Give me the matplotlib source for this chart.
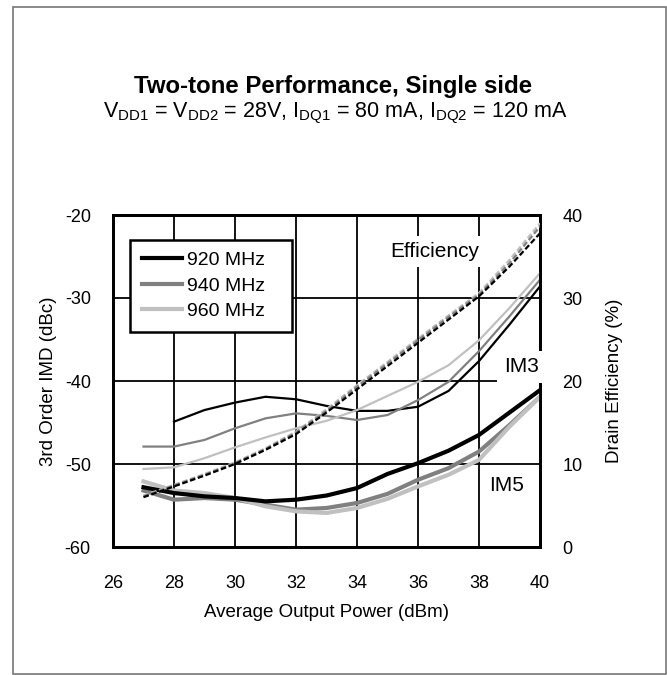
import matplotlib
matplotlib.use("Agg")
import matplotlib.pyplot as plt
from matplotlib.lines import Line2D
from matplotlib.patches import Rectangle

plt.rcParams['font.family'] = ['Liberation Sans', 'DejaVu Sans']
plt.rcParams['mathtext.fontset'] = 'custom'
plt.rcParams['mathtext.rm'] = 'Liberation Sans'
plt.rcParams['mathtext.it'] = 'Liberation Sans:italic'
plt.rcParams['mathtext.bf'] = 'Liberation Sans:bold'
plt.rcParams['axes.unicode_minus'] = False

# ---- data ----
pout = [27, 28, 29, 30, 31, 32, 33, 34, 35, 36, 37, 38, 39, 40]
pout_920_im3 = [28, 29, 30, 31, 32, 33, 34, 35, 36, 37, 38, 39, 40]

im3_920 = [-44.9, -43.5, -42.6, -41.9, -42.2, -43.0, -43.6, -43.6, -43.1, -41.2, -37.6, -33.2, -28.6]
im3_940 = [-47.9, -47.9, -47.1, -45.7, -44.5, -43.9, -44.2, -44.7, -44.1, -42.3, -40.1, -36.4, -32.2, -27.8]
im3_960 = [-50.6, -50.4, -49.3, -48.0, -46.8, -45.7, -44.8, -43.5, -41.8, -40.1, -38.1, -35.1, -31.2, -27.0]

im5_920 = [-52.8, -53.5, -53.9, -54.1, -54.5, -54.3, -53.8, -52.9, -51.2, -49.9, -48.4, -46.5, -43.8, -41.1]
im5_940 = [-53.2, -54.3, -54.1, -54.3, -54.9, -55.5, -55.3, -54.7, -53.6, -51.9, -50.5, -48.5, -45.3, -41.9]
im5_960 = [-52.1, -53.2, -53.5, -54.1, -55.1, -55.7, -55.9, -55.3, -54.2, -52.7, -51.3, -49.5, -45.5, -41.9]

eff_920 = [6.0, 7.3, 8.6, 10.0, 11.7, 13.6, 16.2, 19.0, 21.8, 24.6, 27.4, 30.2, 33.8, 37.8]
eff_940 = [6.1, 7.4, 8.7, 10.1, 11.8, 13.8, 16.4, 19.3, 22.1, 24.9, 27.7, 30.4, 34.2, 38.6]
eff_960 = [6.2, 7.5, 8.8, 10.2, 11.9, 13.9, 16.6, 19.5, 22.3, 25.1, 27.9, 30.6, 34.6, 39.0]

series_labels = ['920 MHz', '940 MHz', '960 MHz']
colors = ['#000000', '#808080', '#c0c0c0']

x_ticks = [26, 28, 30, 32, 34, 36, 38, 40]
y_ticks = [-60, -50, -40, -30, -20]
y2_ticks = [0, 10, 20, 30, 40]

title = 'Two-tone Performance, Single side'
subtitle = (r'V$_{\mathrm{DD1}}$ = V$_{\mathrm{DD2}}$ = 28V, I$_{\mathrm{DQ1}}$ = 80 mA, '
            r'I$_{\mathrm{DQ2}}$ = 120 mA')

# ---- figure ----
W, H = 667, 675
fig = plt.figure(figsize=(W / 100, H / 100), dpi=100)
L, R, T, B = 113, 540, 215, 547
ax = fig.add_axes([L / W, 1 - B / H, (R - L) / W, (B - T) / H])
ax2 = ax.twinx()

# outer frame
fig.patches.append(Rectangle((13 / W, 1 - 674 / H), (666 - 13) / W, (674 - 7) / H,
                             transform=fig.transFigure, fill=False,
                             edgecolor='#777777', linewidth=1.2))

ax.set_xlim(26, 40)
ax.set_ylim(-60, -20)
ax2.set_ylim(0, 40)
ax.set_xticks(x_ticks)
ax.set_yticks(y_ticks)
ax2.set_yticks(y2_ticks)
ax.grid(True, color='black', linewidth=1.3)
ax.set_axisbelow(True)

for a in (ax, ax2):
    for s in a.spines.values():
        s.set_linewidth(2.0)
        s.set_color('black')

ax.tick_params(axis='y', length=0, pad=16, labelsize=13)
ax.tick_params(axis='x', length=0, pad=20, labelsize=13)
ax2.tick_params(axis='y', length=0, pad=16, labelsize=13)

# IM3 thin lines
ax.plot(pout_920_im3, im3_920, color=colors[0], lw=1.6, zorder=3)
ax.plot(pout, im3_940, color=colors[1], lw=1.6, zorder=3)
ax.plot(pout, im3_960, color=colors[2], lw=1.6, zorder=3)
# IM5 thick lines
ax.plot(pout, im5_940, color=colors[1], lw=3.0, zorder=3)
ax.plot(pout, im5_960, color=colors[2], lw=3.0, zorder=3)
ax.plot(pout, im5_920, color=colors[0], lw=3.0, zorder=4)
# Efficiency dashed
for eff, c in zip([eff_960, eff_940, eff_920], [colors[2], colors[1], colors[0]]):
    ax2.plot(pout, eff, color=c, lw=1.6, linestyle=(0, (2.5, 1.2)), zorder=3)

ax.set_ylabel('3rd Order IMD (dBc)', fontsize=13.5)
ax2.set_ylabel('Drain Efficiency (%)', fontsize=13.5)
ax.set_xlabel('Average Output Power (dBm)', fontsize=13.5)
ax.yaxis.set_label_coords((57 - L) / (R - L), 0.5)
ax2.yaxis.set_label_coords((606 - L) / (R - L), 0.5)
ax.xaxis.set_label_coords(0.5, (B - 604) / (B - T))

fig.text(0.5, 1 - 86 / H, title, ha='center', va='center', fontsize=17.3, fontweight='bold')
fig.text(335 / W, 1 - 113 / H, subtitle, ha='center', va='center', fontsize=15.5)

# annotations (on the right axis, data coords converted to right-axis units)
bbox = dict(facecolor='white', edgecolor='none', pad=4)
ax2.text(36.55, -24.4 + 60, 'Efficiency', ha='center', va='center', fontsize=15,
         bbox=bbox, zorder=6)
ax2.text(39.4, -38.3 + 60, 'IM3', ha='center', va='center', fontsize=15,
         bbox=dict(facecolor='white', edgecolor='none', pad=5), zorder=6, clip_on=False)
ax2.text(38.9, -52.6 + 60, 'IM5', ha='center', va='center', fontsize=15, zorder=6)

handles = [Line2D([], [], color=c, lw=3.0) for c in colors]
leg_x0 = (130 - L) / (R - L)
leg_w = 162 / (R - L)
leg_y0 = (B - 334) / (B - T)
leg_h = 94 / (B - T)
leg = ax2.legend(handles, series_labels, loc='upper left',
                 bbox_to_anchor=(leg_x0, leg_y0, leg_w, leg_h), mode='expand',
                 borderaxespad=0, fontsize=14, frameon=True, fancybox=False,
                 framealpha=1.0,
                 handlelength=2.1, handletextpad=0.25, labelspacing=0.4,
                 borderpad=0.6)
leg.get_frame().set_edgecolor('black')
leg.get_frame().set_linewidth(1.8)
leg.set_zorder(7)

fig.savefig('out.png', dpi=100)
